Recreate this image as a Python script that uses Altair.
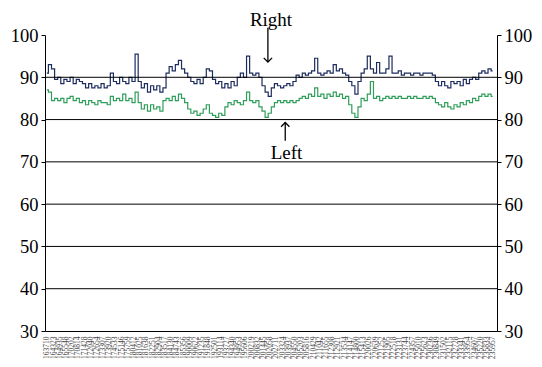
import json
import altair as alt
import pandas as pd

right_vals = [
    91, 93, 92, 89.5, 90, 88.5, 89.5, 89, 90, 88.5,
    89.5, 89, 88.5, 87.5, 88.5, 87.5, 88, 87.5, 88.5, 87.5,
    88, 91, 89, 88.5, 90, 89, 88.5, 90, 89, 95.5,
    89, 87.5, 88.5, 86.5, 88, 87, 88, 86.5, 87.5, 91,
    92.5, 91.5, 93, 94, 92, 91, 90, 89, 88.5, 89.5,
    88.5, 90, 92, 91.5, 89.5, 88.5, 89, 87.5, 88.5, 87.5,
    89, 88, 90, 91, 90, 95, 91, 90.5, 91, 90,
    88, 86.5, 85.5, 87.5, 88.5, 88, 87.5, 88, 88.5, 88,
    89, 90.5, 90, 91, 90.5, 91, 91.5, 94.5, 91, 90.5,
    91, 91.5, 91, 93, 91.5, 92, 91, 90.5, 89, 88,
    86, 89, 91, 92, 95, 92, 91, 93.5, 91, 91,
    92, 95, 91, 91, 91.5, 90.5, 91, 91, 90.5, 91,
    91, 90.5, 91, 91, 91, 90.5, 89, 88, 89, 88,
    87.5, 89, 88.5, 89, 88, 89.5, 88.5, 89.5, 90, 89.5,
    91, 91.5, 91, 92, 91.5,
]

left_vals = [
    87, 86.5, 84.5, 85, 84.5, 85, 84, 85, 85.5, 84.5,
    85, 84, 84.5, 83.5, 84.5, 84, 83.5, 84.5, 84, 84,
    83.5, 85.5, 84.5, 85, 84.5, 86, 84.5, 85, 84, 86.5,
    84, 82.5, 83.5, 82, 83.5, 82.5, 83, 82, 84.5, 85,
    84.5, 85.5, 84.5, 86, 85, 84, 82.5, 81.5, 82, 81,
    81.5, 82.5, 83.5, 81.5, 81, 80.5, 81.5, 81, 83, 84,
    83.5, 84.5, 84, 83.5, 84.5, 86.5, 84.5, 84, 84.5, 83,
    82, 80.5, 81.5, 83, 84, 84.5, 84, 84.5, 84, 84.5,
    84, 84.5, 85, 85.5, 85, 86, 85.5, 87.5, 85.5, 86,
    85, 86, 85.5, 86.5, 85.5, 86, 85, 85.5, 83.5, 81.5,
    80.5, 83, 85, 84.5, 86, 89, 85, 85.5, 84.5, 85,
    85.5, 85, 85.5, 85, 85.5, 85, 85, 85.5, 85, 85.5,
    85, 85, 85.5, 85, 85.5, 85, 84, 83.5, 83, 84,
    83, 82.5, 83.5, 83, 84, 83.5, 84.5, 84, 85, 84.5,
    85.5, 86, 85.5, 86, 85.5,
]

time_labels = [
    "163710", "164323", "164935", "165548", "170202", "170814", "171428", "172040",
    "172654", "173307", "173920", "174533", "175146", "175759", "180412", "181025",
    "181638", "182251", "182904", "183517", "184130", "184743", "185356", "190009",
    "190622", "191235", "191848", "192501", "193114", "193727", "194340", "194953",
    "195606", "200219", "200832", "201445", "202058", "202711", "203324", "203937",
    "204550", "205203", "205816", "210429", "211042", "211655", "212308", "212921",
    "213534", "214147", "214800", "215413", "220026", "220639", "221252", "221905",
    "222518", "223131", "223744", "224357", "225010", "225623", "230236", "230849",
    "231502", "232115", "232728", "233341", "233954", "234607", "235220", "235833",
    "235957",
]

grid_levels = [40, 50, 60, 70, 80, 90]
y_ticks = [30, 40, 50, 60, 70, 80, 90, 100]

rows = []
for i, v in enumerate(right_vals):
    rows.append({"idx": i, "value": v, "side": "Right"})
for i, v in enumerate(left_vals):
    rows.append({"idx": i, "value": v, "side": "Left"})
df = pd.DataFrame(rows)

tick_vals = [2 * j for j in range(len(time_labels))]
label_expr = json.dumps(time_labels) + "[round(datum.value / 2)]"

FONT = "Liberation Serif"
xscale = alt.Scale(domain=[-0.6, 145.4], nice=False, zero=False)
yscale = alt.Scale(domain=[30, 100], nice=False, zero=False)

x_axis = alt.Axis(
    values=tick_vals, labelExpr=label_expr, labelAngle=-90, labelFontSize=7.5,
    labelColor="#444444", labelFont=FONT, ticks=False, grid=False, title=None,
    domainColor="black", domainWidth=1, labelPadding=5, labelOverlap=False,
    labelBound=False, labelFlush=False,
)
x_enc = alt.X("idx:Q", scale=xscale, axis=x_axis)


def y_axis(orient):
    return alt.Axis(
        orient=orient, values=y_ticks, grid=False, title=None, labelFont=FONT,
        labelFontSize=18.5, labelColor="black", tickColor="black", tickSize=4,
        domainColor="black", labelPadding=3,
    )


lines = alt.Chart(df).mark_line(strokeWidth=1.2, interpolate="step").encode(
    x=x_enc,
    y=alt.Y("value:Q", scale=yscale, axis=y_axis("left")),
    color=alt.Color(
        "side:N",
        scale=alt.Scale(domain=["Right", "Left"], range=["#1d2c5e", "#2f9e5a"]),
        legend=None,
    ),
    detail="side:N",
)

grid_df = pd.DataFrame({"level": grid_levels})
grid = alt.Chart(grid_df).mark_rule(color="black", strokeWidth=1).encode(
    y=alt.Y("level:Q", scale=yscale, axis=y_axis("right")),
)

# annotations (data coordinates)
ann_text = pd.DataFrame({
    "idx": [72.4, 77.4], "y": [103.6, 72.0], "t": ["Right", "Left"],
})
ann_rule = pd.DataFrame({
    "idx": [71.4, 77.0], "y": [101.7, 75.0], "y2": [93.6, 79.3],
})
ann_down = pd.DataFrame({"idx": [71.4], "y": [93.6]})
ann_up = pd.DataFrame({"idx": [77.0], "y": [79.3]})

ay = alt.Y("y:Q", scale=yscale, axis=None)

texts = alt.Chart(ann_text).mark_text(
    font=FONT, fontSize=19, color="black", baseline="middle", align="center"
).encode(x=x_enc, y=ay, text="t:N")

arrows = alt.Chart(ann_rule).mark_rule(color="black", strokeWidth=1.3).encode(
    x=x_enc, y=ay, y2="y2:Q"
)
head_down = alt.Chart(ann_down).mark_point(
    shape="M-1,-1L0,0L1,-1", size=70, filled=False, color="black", strokeWidth=1.3, opacity=1
).encode(x=x_enc, y=ay)
head_up = alt.Chart(ann_up).mark_point(
    shape="M-1,1L0,0L1,1", size=70, filled=False, color="black", strokeWidth=1.3, opacity=1
).encode(x=x_enc, y=ay)

chart = alt.layer(lines, grid, texts, arrows, head_down, head_up).resolve_scale(
    y="independent"
).properties(
    width=452, height=296,
    autosize=alt.AutoSizeParams(type="none"),
    padding={"left": 45, "top": 35, "right": 45, "bottom": 36},
    background="white",
).configure_view(stroke=None).configure_axisX(labelOverlap=False)

chart.save("out.html", embed_options={"renderer": "svg", "actions": False})
